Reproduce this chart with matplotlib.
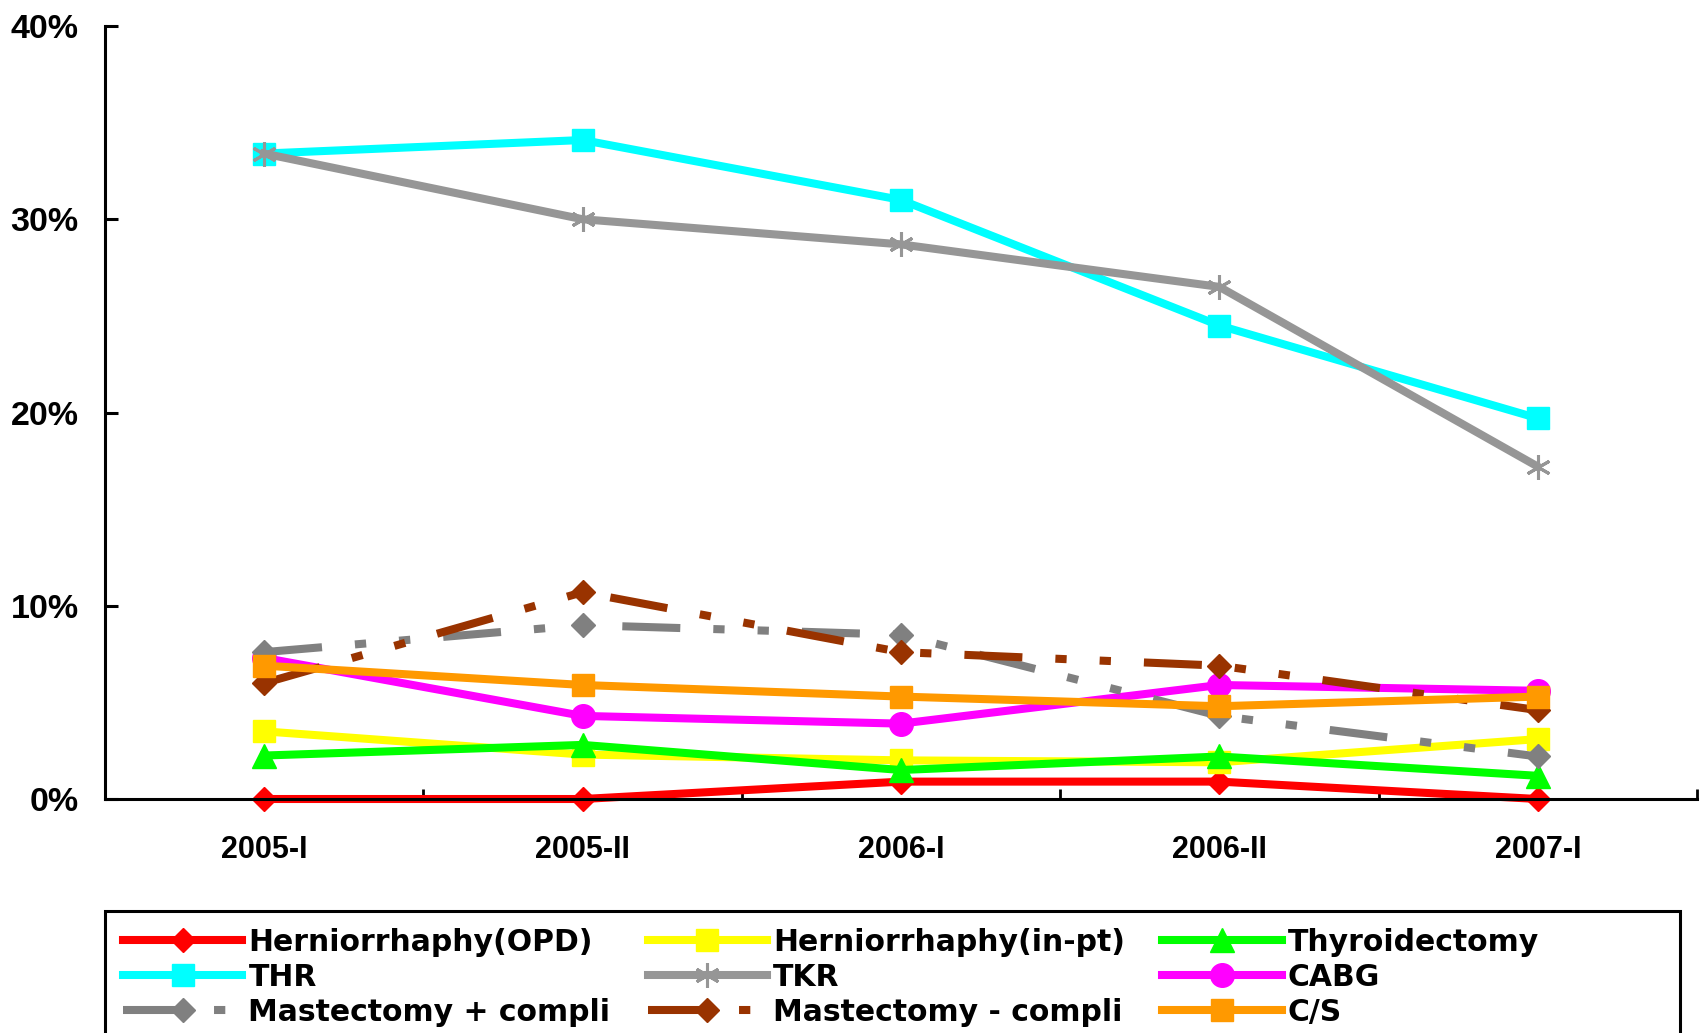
import matplotlib
matplotlib.use("Agg")
import matplotlib.pyplot as plt
from matplotlib.ticker import PercentFormatter, FixedLocator
from matplotlib.patches import Rectangle

# data (percent)
periods = ["2005-I", "2005-II", "2006-I", "2006-II", "2007-I"]

hern_opd = [0.0, 0.0, 0.9, 0.9, 0.0]
hern_inpt = [3.5, 2.3, 2.0, 1.9, 3.1]
thyroid = [2.25, 2.8, 1.5, 2.2, 1.2]
thr = [33.4, 34.1, 31.0, 24.5, 19.7]
tkr = [33.4, 30.0, 28.7, 26.5, 17.2]
cabg = [7.3, 4.3, 3.9, 5.9, 5.6]
mast_plus = [7.6, 9.0, 8.5, 4.3, 2.2]
mast_minus = [6.0, 10.7, 7.6, 6.9, 4.6]
cs = [6.9, 5.9, 5.3, 4.8, 5.3]

labels = ["Herniorrhaphy(OPD)", "Herniorrhaphy(in-pt)", "Thyroidectomy",
          "THR", "TKR", "CABG",
          "Mastectomy + compli", "Mastectomy - compli", "C/S"]

LW = 5.8
DASH = (7.2, 4.1, 1.4, 4.1, 1.4, 4.1)

styles = [
    dict(color="#FF0000", marker="D", ms=12),
    dict(color="#FFFF00", marker="s", ms=16),
    dict(color="#00FF00", marker="^", ms=17),
    dict(color="#00FFFF", marker="s", ms=16),
    dict(color="#969696", marker=(6, 2, 0), ms=18, mew=2.2),
    dict(color="#FF00FF", marker="o", ms=17),
    dict(color="#808080", marker="D", ms=12, dashes=DASH),
    dict(color="#993300", marker="D", ms=12, dashes=DASH),
    dict(color="#FF9900", marker="s", ms=16),
]
series = [hern_opd, hern_inpt, thyroid, thr, tkr, cabg, mast_plus, mast_minus, cs]

fig = plt.figure(figsize=(17.03, 10.33), dpi=100)
ax = fig.add_axes([0.06166, 0.22652, 0.93482, 0.74831])

x = list(range(len(periods)))
handles = []
for vals, lab, st in zip(series, labels, styles):
    st = dict(st)
    mew = st.pop("mew", 1)
    ln, = ax.plot(x, vals, lw=LW, label=lab, clip_on=False,
                  markeredgecolor=st["color"], markerfacecolor=st["color"],
                  markeredgewidth=mew, **st)
    handles.append(ln)

ax.set_xlim(-0.5, 4.5)
ax.set_ylim(0, 40)
ax.yaxis.set_major_formatter(PercentFormatter(100, decimals=0))
ax.set_yticks([0, 10, 20, 30, 40])
ax.set_xticks(x)
ax.set_xticklabels(periods)
ax.xaxis.set_minor_locator(FixedLocator([-0.5, 0.5, 1.5, 2.5, 3.5, 4.5]))

for s in ["top", "right"]:
    ax.spines[s].set_visible(False)
for s in ["left", "bottom"]:
    ax.spines[s].set_linewidth(2.2)

ax.tick_params(axis="y", direction="in", length=9, width=2.2, pad=19)
ax.tick_params(axis="x", which="major", length=0, pad=26)
ax.tick_params(axis="x", which="minor", direction="in", length=7, width=2)

for t in ax.get_yticklabels():
    t.set_fontfamily("Liberation Sans")
    t.set_fontweight("bold")
    t.set_fontsize(24.5)
for t in ax.get_xticklabels():
    t.set_fontfamily("Liberation Sans")
    t.set_fontweight("bold")
    t.set_fontsize(22)

# legend: 3 columns, filled row-wise like the original
order = [0, 3, 6, 1, 4, 7, 2, 5, 8]
leg = fig.legend([handles[i] for i in order], [labels[i] for i in order],
                 loc="upper left", bbox_to_anchor=(0.0617, 1 - 910 / 1033),
                 ncol=3, frameon=False, handlelength=4.0, handletextpad=0.2,
                 columnspacing=1.25, labelspacing=0.2, borderpad=0.6,
                 borderaxespad=0,
                 prop=dict(family="DejaVu Sans", weight="bold", size=21.5))

box = Rectangle((105 / 1703, -0.05), (1680 - 105) / 1703, 0.05 + 1 - 911 / 1033,
                transform=fig.transFigure, fill=False, edgecolor="black",
                linewidth=2.2, clip_on=False)
fig.patches.append(box)

fig.savefig("out.png", dpi=100)
